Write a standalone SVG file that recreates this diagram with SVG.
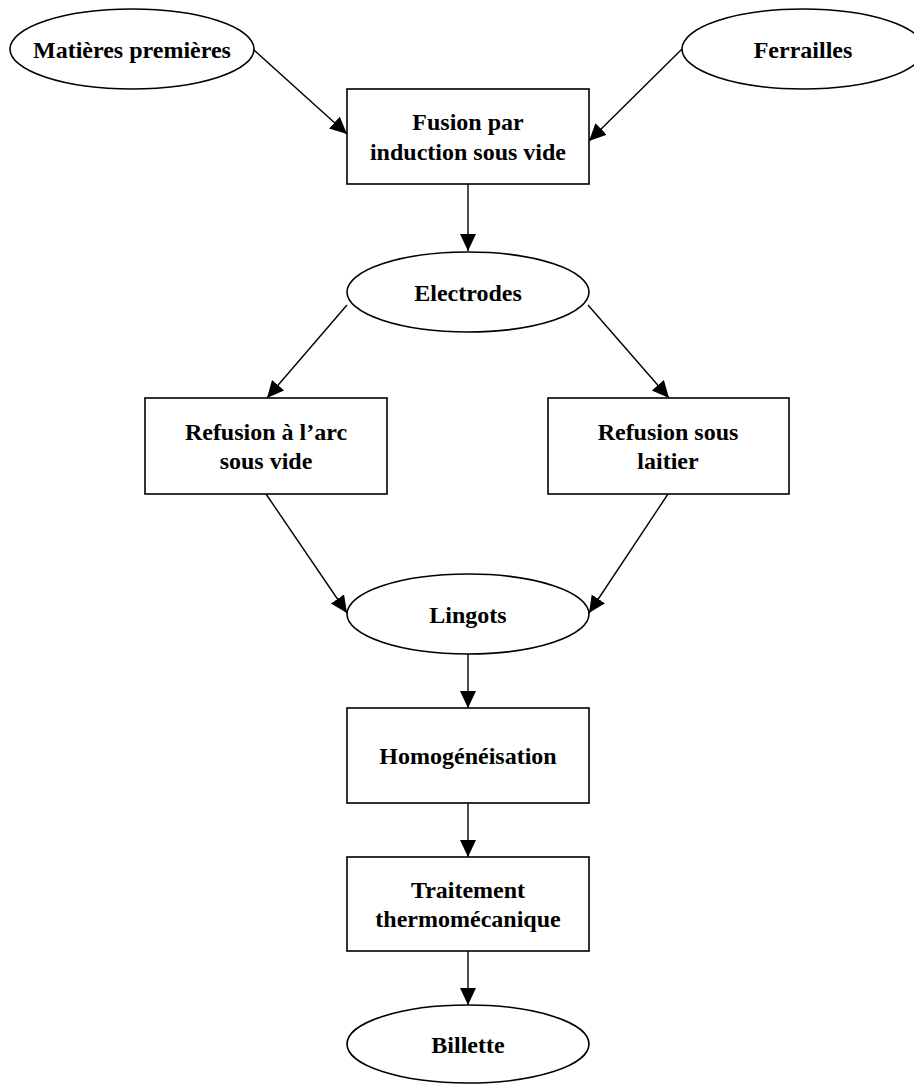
<svg xmlns="http://www.w3.org/2000/svg" width="914" height="1084" viewBox="0 0 914 1084">
<defs>
<marker id="arr" markerUnits="userSpaceOnUse" markerWidth="18" markerHeight="17" refX="17" refY="8" orient="auto">
<path d="M0,0 L17,8 L0,16 z" fill="#000"/>
</marker>
<style>
.shape{fill:#fff;stroke:#000;stroke-width:1.6}
.t{font-family:"Liberation Serif","Times New Roman",serif;font-weight:bold;font-size:24px;fill:#000;text-anchor:middle}
.c{stroke:#000;stroke-width:1.4;fill:none;marker-end:url(#arr)}
</style>
</defs>
<rect width="914" height="1084" fill="#fff"/>
<g id="connectors">
<line class="c" x1="254" y1="50" x2="347" y2="134"/>
<line class="c" x1="682" y1="49" x2="589" y2="141"/>
<line class="c" x1="468" y1="184" x2="468" y2="251"/>
<line class="c" x1="347" y1="305" x2="267" y2="398"/>
<line class="c" x1="588" y1="305" x2="669" y2="398"/>
<line class="c" x1="266" y1="494" x2="347" y2="613"/>
<line class="c" x1="668" y1="494" x2="589" y2="613"/>
<line class="c" x1="468" y1="654" x2="468" y2="708"/>
<line class="c" x1="468" y1="803" x2="468" y2="857"/>
<line class="c" x1="468" y1="951" x2="468" y2="1005"/>
</g>
<g id="matieres">
<ellipse class="shape" cx="132" cy="49" rx="122" ry="40"/>
<text class="t" x="132" y="58">Matières premières</text>
</g>
<g id="ferrailles">
<ellipse class="shape" cx="803" cy="49" rx="121" ry="40"/>
<text class="t" x="803" y="58">Ferrailles</text>
</g>
<g id="fusion">
<rect class="shape" x="347" y="89" width="242" height="95"/>
<text class="t" x="468" y="130">Fusion par</text>
<text class="t" x="468" y="160">induction sous vide</text>
</g>
<g id="electrodes">
<ellipse class="shape" cx="468" cy="292" rx="121" ry="40"/>
<text class="t" x="468" y="301">Electrodes</text>
</g>
<g id="refusion-arc">
<rect class="shape" x="145" y="398" width="242" height="96"/>
<text class="t" x="266" y="440">Refusion à l’arc</text>
<text class="t" x="266" y="469">sous vide</text>
</g>
<g id="refusion-laitier">
<rect class="shape" x="548" y="398" width="241" height="96"/>
<text class="t" x="668" y="440">Refusion sous</text>
<text class="t" x="668" y="469">laitier</text>
</g>
<g id="lingots">
<ellipse class="shape" cx="468" cy="614" rx="121" ry="40"/>
<text class="t" x="468" y="623">Lingots</text>
</g>
<g id="homogeneisation">
<rect class="shape" x="347" y="708" width="242" height="95"/>
<text class="t" x="468" y="764">Homogénéisation</text>
</g>
<g id="traitement">
<rect class="shape" x="347" y="857" width="242" height="94"/>
<text class="t" x="468" y="898">Traitement</text>
<text class="t" x="468" y="927">thermomécanique</text>
</g>
<g id="billette">
<ellipse class="shape" cx="468" cy="1044" rx="121" ry="39"/>
<text class="t" x="468" y="1053">Billette</text>
</g>
</svg>
